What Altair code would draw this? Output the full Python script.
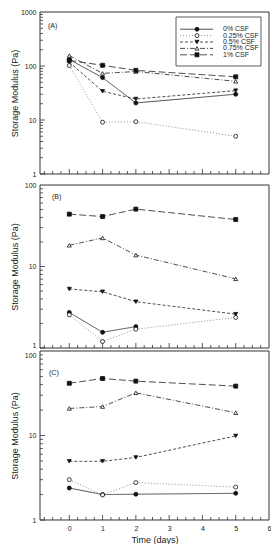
import altair as alt
import pandas as pd

series = ["0% CSF", "0.25% CSF", "0.5% CSF", "0.75% CSF", "1% CSF"]
days = [0, 1, 2, 5]

# Panel A values (Pa)
a_0 = [132, 61, 20.7, 30]
a_025 = [102, 9.1, 9.3, 5.0]
a_05 = [118, 34, 24.5, 35]
a_075 = [156, 73, 79, 52]
a_1 = [127, 103, 83, 63]

# Panel B values (Pa); 0% CSF has no day-5 point
b_0 = [2.73, 1.56, 1.83]
b_025 = [2.55, 1.2, 1.7, 2.37]
b_05 = [5.3, 4.9, 3.7, 2.6]
b_075 = [18.2, 22.4, 13.8, 7.05]
b_1 = [43.9, 41, 50.6, 37.7]

# Panel C values (Pa)
c_0 = [2.39, 2.0, 2.02, 2.07]
c_025 = [3.0, 1.98, 2.77, 2.45]
c_05 = [4.95, 4.95, 5.5, 9.9]
c_075 = [20.9, 22, 32, 18.6]
c_1 = [41.5, 47.3, 44, 38.4]

x_labels = [0, 1, 2, 3, 4, 5, 6]
x_major = [0, 1, 2, 3, 4, 5]
x_minor = [q / 4 for q in range(-3, 24) if q % 4 != 0]

FONT = "Liberation Sans"
INK = "#222"
W = 229

shape_scale = alt.Scale(domain=series, range=["circle", "circle", "triangle-down", "triangle-up", "square"])
fill_scale = alt.Scale(domain=series, range=["#111", "white", "#111", "white", "#111"])
dash_scale = alt.Scale(domain=series, range=[[1, 0], [1, 2], [3, 2], [5, 2, 1, 2], [7, 3]])
color_scale = alt.Scale(domain=series, range=["#222", "#777", "#222", "#222", "#222"])


def make_df(cols):
    rows = []
    for s, vals in zip(series, cols):
        for d, v in zip(days, vals):
            rows.append({"series": s, "day": d, "value": v})
    return pd.DataFrame(rows)


def panel(df, ph, vh, decades, label, label_xy, show_x, legend=False, baseline="middle"):
    ymax = decades[-1]
    xs = alt.Scale(domain=[-0.88, 6], nice=False, zero=False)
    ys = alt.Scale(type="log", domain=[1, ymax], nice=False, range=[ph, 0])
    if show_x:
        xaxis = alt.Axis(values=x_labels, format="d", ticks=False, domain=False, grid=False,
                         labelPadding=4, labelFontSize=7, labelFlush=False, labelOverlap=False,
                         title="Time (days)", titleFontSize=9, titlePadding=4,
                         titleFontWeight="normal")
    else:
        xaxis = None
    yaxis = alt.Axis(values=decades, format="d", ticks=False, domain=False, grid=False,
                     labelPadding=4, labelFontSize=7, labelFlush=False, labelOverlap=False,
                     labelBaseline=baseline, minExtent=20,
                     title="Storage Modulus (Pa)", titleFontSize=9, titlePadding=1,
                     titleFontWeight="normal", titleY=ph / 2)

    def X(field):
        return alt.X(field, scale=xs, axis=xaxis)

    def Y(field):
        return alt.Y(field, scale=ys, axis=yaxis)

    lines = alt.Chart(df).mark_line(strokeWidth=0.8).encode(
        x=X("day:Q"),
        y=Y("value:Q"),
        detail="series:N",
        strokeDash=alt.StrokeDash("series:N", scale=dash_scale, legend=None),
        color=alt.Color("series:N", scale=color_scale, legend=None),
        order="day:Q",
    )
    points = alt.Chart(df).mark_point(filled=True, size=16, stroke="#111", strokeWidth=0.8, opacity=1).encode(
        x=X("day:Q"),
        y=Y("value:Q"),
        shape=alt.Shape("series:N", scale=shape_scale, legend=None),
        fill=alt.Fill("series:N", scale=fill_scale, legend=None),
    )

    y_major = list(decades[:-1])
    y_minor = [d * k for d in decades[:-1] for k in range(2, 10)]
    tick_style = dict(color="#333", strokeWidth=0.8)
    yt_major = alt.Chart(pd.DataFrame({"value": y_major})).mark_rule(**tick_style).encode(
        y=Y("value:Q"), x=alt.value(0), x2=alt.value(5))
    yt_minor = alt.Chart(pd.DataFrame({"value": y_minor})).mark_rule(**tick_style).encode(
        y=Y("value:Q"), x=alt.value(0), x2=alt.value(3))
    xt_major = alt.Chart(pd.DataFrame({"day": x_major})).mark_rule(**tick_style).encode(
        x=X("day:Q"), y=alt.value(ph), y2=alt.value(ph - 5))
    xt_minor = alt.Chart(pd.DataFrame({"day": x_minor})).mark_rule(**tick_style).encode(
        x=X("day:Q"), y=alt.value(ph), y2=alt.value(ph - 3))

    frame = alt.Chart(pd.DataFrame({"f": [0]})).mark_rect(
        fillOpacity=0, stroke="#333", strokeWidth=1).encode(
        x=alt.value(0), x2=alt.value(W), y=alt.value(0), y2=alt.value(ph))

    lab = alt.Chart(pd.DataFrame({"label": [label]})).mark_text(
        align="left", baseline="middle", fontSize=7, font=FONT, color=INK).encode(
        text="label:N", x=alt.value(label_xy[0]), y=alt.value(label_xy[1]))

    inner = alt.layer(lines, points, yt_major, yt_minor, xt_major, xt_minor, lab, frame)

    if legend:
        ldf = pd.DataFrame({"series": series})
        ly = alt.Y("series:N", scale=alt.Scale(domain=series, range=[14, 46]), axis=None)
        box = alt.Chart(pd.DataFrame({"b": [0]})).mark_rect(
            fill="white", stroke="#333", strokeWidth=0.8).encode(
            x=alt.value(136), x2=alt.value(221), y=alt.value(5), y2=alt.value(54))
        lrule = alt.Chart(ldf).mark_rule(strokeWidth=0.8).encode(
            y=ly, x=alt.value(140), x2=alt.value(173),
            strokeDash=alt.StrokeDash("series:N", scale=dash_scale, legend=None),
            color=alt.Color("series:N", scale=color_scale, legend=None))
        lpts = alt.Chart(ldf).mark_point(filled=True, size=16, stroke="#111", strokeWidth=0.8, opacity=1).encode(
            y=ly, x=alt.value(157),
            shape=alt.Shape("series:N", scale=shape_scale, legend=None),
            fill=alt.Fill("series:N", scale=fill_scale, legend=None))
        ltxt = alt.Chart(ldf).mark_text(align="left", baseline="middle", fontSize=7, font=FONT, color=INK).encode(
            y=ly, x=alt.value(183), text="series:N")
        legend_layer = alt.layer(box, lrule, lpts, ltxt)
        out = alt.layer(inner, legend_layer).resolve_scale(y="independent")
    else:
        out = inner
    return out.properties(width=W, height=vh)


base_b = {"condition": {"test": "datum.value == 1", "value": "bottom"}, "value": "middle"}
base_c = {"condition": {"test": "datum.value == 100", "value": "top"}, "value": "middle"}

pa = panel(make_df([a_0, a_025, a_05, a_075, a_1]), 162, 170, [1, 10, 100, 1000], "(A)", (8, 14), False, legend=True)
pb = panel(make_df([b_0, b_025, b_05, b_075, b_1]), 163, 163, [1, 10, 100], "(B)", (12, 12), False, baseline=base_b)
pc = panel(make_df([c_0, c_025, c_05, c_075, c_1]), 169, 169, [1, 10, 100], "(C)", (9, 22), True, baseline=base_c)

chart = alt.vconcat(pa, pb, pc, spacing=3, bounds="flush").properties(
    padding={"left": 2, "top": 0, "right": 0, "bottom": 0}
).configure_view(
    stroke=None
).configure_axis(
    labelFont=FONT, titleFont=FONT, labelColor=INK, titleColor=INK
)

chart.save("out.html", embed_options={"renderer": "svg", "actions": False})
